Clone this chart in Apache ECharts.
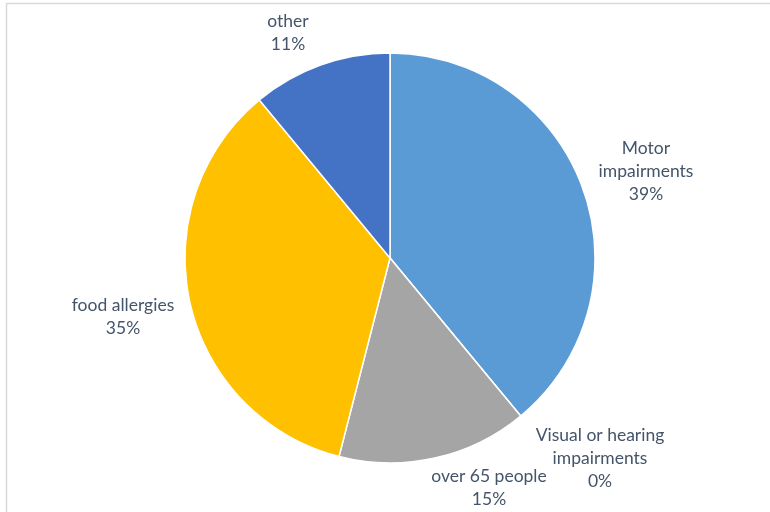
<!DOCTYPE html>
<html>
<head>
<meta charset="utf-8">
<script src="https://cdn.jsdelivr.net/npm/echarts@6/dist/echarts.min.js"></script>
<style>
  html, body { margin: 0; padding: 0; background: #fff; }
  #chart { width: 770px; height: 512px; }
</style>
</head>
<body>
<div id="chart"></div>
<script>
// Share of guests by type of need
const categories = ['Motor\nimpairments', 'Visual or hearing\nimpairments', 'over 65 people', 'food allergies', 'other'];
const shares = [39, 0, 15, 35, 11];
const colors = ['#5B9BD5', '#ED7D31', '#A5A5A5', '#FFC000', '#4472C4'];

// Label anchor points (centre of each text block)
const labelAnchors = [[646, 171], [600, 458], [489, 488], [123, 317], [288, 33]];

const chart = echarts.init(document.getElementById('chart'));
chart.setOption({
  animation: false,
  graphic: [{
    type: 'rect',
    shape: { x: 6.5, y: 3.5, width: 900, height: 700 },
    style: { fill: 'none', stroke: '#d9d9d9', lineWidth: 1.5 },
    silent: true
  }],
  series: [{
    type: 'pie',
    center: [390, 258],
    radius: 205,
    startAngle: 90,
    clockwise: true,
    stillShowZeroSum: true,
    avoidLabelOverlap: false,
    itemStyle: { borderColor: '#fff', borderWidth: 1.5 },
    label: {
      show: true,
      position: 'outside',
      formatter: p => p.name + '\n' + p.value + '%',
      color: '#44546A',
      fontFamily: 'Lato',
      fontSize: 17.5,
      lineHeight: 23,
      align: 'center'
    },
    labelLine: { show: false },
    labelLayout: p => ({
      x: labelAnchors[p.dataIndex][0],
      y: labelAnchors[p.dataIndex][1],
      align: 'center',
      verticalAlign: 'middle'
    }),
    data: categories.map((c, i) => ({
      name: c,
      value: shares[i],
      itemStyle: { color: colors[i] }
    }))
  }]
});
</script>
</body>
</html>
